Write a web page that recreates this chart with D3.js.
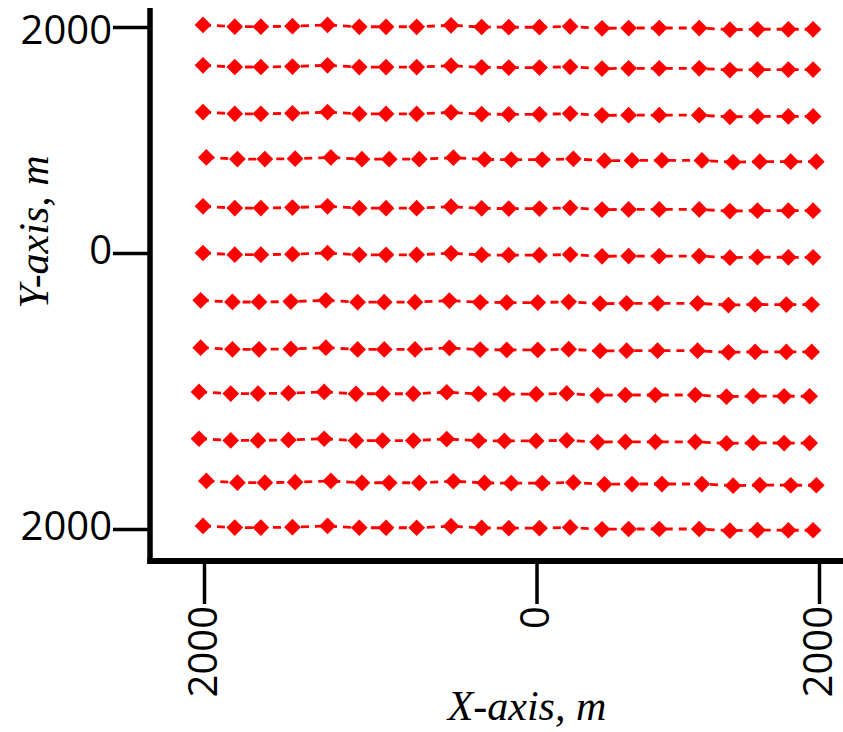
<!DOCTYPE html>
<html lang="en">
<head>
	<meta charset="utf-8">
	<script src="https://d3js.org/d3.v7.min.js"></script>
	<style>
		body { margin: 0; background: #fff; }
	</style>
</head>
<body>
	<div id="grid"></div>

	<script>
		// tick values (m) and the labels as printed on the original figure
		const xTickValues = [-2000, 0, 2000];
		const xTickLabels = ["2000", "0", "2000"];
		const yTickValues = [-2000, 0, 2000];
		const yTickLabels = ["2000", "0", "2000"];

		// station x positions (m), four slightly shifted variants of the same line
		const xLineA = [-2006, -1815, -1658, -1468, -1257, -1066, -905, -721, -514, -330, -167, 21, 238, 464, 652, 869, 1152, 1369, 1564, 1783, 1958];
		const xLineB = [-1986, -1799, -1634, -1452, -1237, -1050, -886, -705, -500, -313, -152, 40, 261, 481, 676, 888, 1171, 1392, 1581, 1800, 1981];
		const xLineC = [-2020, -1829, -1669, -1478, -1267, -1076, -916, -731, -524, -339, -179, 9, 228, 450, 638, 857, 1140, 1359, 1548, 1769, 1948];
		const xLineD = [-2030, -1839, -1675, -1492, -1277, -1086, -926, -741, -540, -349, -193, -2, 214, 433, 629, 841, 1124, 1345, 1534, 1753, 1934];

		// station y positions (m) for each of the 12 lines, top to bottom
		const yLine01 = [2018, 2003, 2003, 2007, 2018, 2002, 2002, 2002, 2015, 2000, 1998, 1998, 2005, 1988, 1991, 1991, 1991, 1976, 1980, 1980, 1980];
		const yLine02 = [1661, 1646, 1646, 1650, 1661, 1645, 1645, 1645, 1658, 1643, 1641, 1641, 1648, 1632, 1634, 1634, 1634, 1619, 1623, 1623, 1623];
		const yLine03 = [1247, 1232, 1232, 1236, 1247, 1231, 1231, 1231, 1244, 1229, 1227, 1227, 1234, 1218, 1220, 1220, 1220, 1205, 1209, 1209, 1209];
		const yLine04 = [846, 831, 831, 835, 846, 830, 830, 830, 843, 828, 826, 826, 833, 817, 819, 819, 819, 804, 808, 808, 808];
		const yLine05 = [413, 398, 398, 402, 413, 397, 397, 397, 410, 395, 393, 393, 400, 384, 386, 386, 386, 371, 375, 375, 375];
		const yLine06 = [0, -12, -12, -9, 0, -13, -13, -13, -2, -14, -16, -16, -11, -24, -22, -22, -22, -34, -30, -31, -31];
		const yLine07 = [-343, -355, -355, -352, -343, -356, -356, -356, -345, -357, -359, -359, -354, -367, -365, -365, -365, -377, -373, -374, -374];
		const yLine08 = [-686, -698, -698, -695, -686, -699, -699, -699, -688, -700, -702, -702, -697, -710, -708, -708, -708, -720, -716, -717, -717];
		const yLine09 = [-1007, -1019, -1019, -1016, -1007, -1020, -1020, -1020, -1009, -1021, -1023, -1023, -1018, -1031, -1029, -1029, -1029, -1041, -1037, -1038, -1038];
		const yLine10 = [-1346, -1358, -1358, -1355, -1346, -1359, -1359, -1359, -1348, -1360, -1362, -1362, -1357, -1370, -1368, -1368, -1368, -1380, -1376, -1377, -1377];
		const yLine11 = [-1652, -1664, -1664, -1661, -1652, -1665, -1665, -1665, -1654, -1666, -1668, -1668, -1663, -1676, -1674, -1674, -1674, -1686, -1682, -1683, -1683];
		const yLine12 = [-1978, -1990, -1990, -1987, -1978, -1991, -1991, -1991, -1980, -1992, -1994, -1994, -1989, -2002, -2000, -2000, -2000, -2012, -2008, -2009, -2009];

		const lineXs = [xLineA, xLineA, xLineA, xLineB, xLineA, xLineA, xLineC, xLineC, xLineD, xLineD, xLineB, xLineA];
		const lineYs = [yLine01, yLine02, yLine03, yLine04, yLine05, yLine06, yLine07, yLine08, yLine09, yLine10, yLine11, yLine12];

		var width = 843,
			height = 732,
			axisX = 150,
			axisY = 561;

		// the axes of the original are not linear around 0, so piecewise scales
		var x = d3.scaleLinear()
			.domain([-2000, 0, 2000])
			.range([204, 536.5, 819]);

		var y = d3.scaleLinear()
			.domain([-2000, 0, 2000])
			.range([529, 253, 27]);

		var svg = d3.select("#grid").append("svg")
			.attr("width", width)
			.attr("height", height);

		var lines = lineYs.map(function(ys, i) {
			return ys.map(function(v, j) {
				return { x: lineXs[i][j], y: v };
			});
		});

		var line = d3.line()
			.x(function(d) { return x(d.x); })
			.y(function(d) { return y(d.y); });

		var rows = svg.append("g").selectAll("g")
			.data(lines)
			.enter()
			.append("g");

		rows.append("path")
			.attr("d", line)
			.style("fill", "none")
			.style("stroke", "#ff0000")
			.style("stroke-width", 2.8)
			.style("stroke-dasharray", "8,6");

		var diamond = d3.symbol().type(d3.symbolSquare).size(140);

		rows.selectAll("path.mark")
			.data(function(d) { return d; })
			.enter()
			.append("path")
			.attr("class", "mark")
			.attr("d", diamond)
			.attr("transform", function(d) {
				return "translate(" + x(d.x) + "," + y(d.y) + ") rotate(45)";
			})
			.style("fill", "#ff0000");

		// y axis
		var yAxis = svg.append("g")
			.attr("transform", "translate(" + axisX + ",0)")
			.call(d3.axisLeft(y)
				.tickValues(yTickValues)
				.tickFormat(function(d, i) { return yTickLabels[i]; })
				.tickSize(37)
				.tickSizeOuter(0)
				.tickPadding(1));

		yAxis.select(".domain").remove();
		yAxis.selectAll(".tick line")
			.style("stroke", "#000")
			.style("stroke-width", 3.5);
		// the top label sits a little lower on its tick in the original
		yAxis.selectAll(".tick text")
			.attr("dy", function(d) { return d === 2000 ? "0.4em" : "0.26em"; })
			.style("font", "40px 'Open Sans'")
			.style("fill", "#000");

		// x axis
		var xAxis = svg.append("g")
			.attr("transform", "translate(0," + axisY + ")")
			.call(d3.axisBottom(x)
				.tickValues(xTickValues)
				.tickFormat(function(d, i) { return xTickLabels[i]; })
				.tickSize(43)
				.tickSizeOuter(0));

		xAxis.select(".domain").remove();
		xAxis.selectAll(".tick line")
			.style("stroke", "#000")
			.style("stroke-width", 3.5);
		xAxis.selectAll(".tick text")
			.attr("x", 0)
			.attr("y", 0)
			.attr("dy", "0.3em")
			.attr("transform", "translate(0,45) rotate(-90)")
			.style("text-anchor", "end")
			.style("font", "40px 'Open Sans'")
			.style("fill", "#000");

		// thick frame lines
		svg.append("line")
			.attr("x1", axisX).attr("y1", 8)
			.attr("x2", axisX).attr("y2", axisY + 3)
			.style("stroke", "#000")
			.style("stroke-width", 5.5);

		svg.append("line")
			.attr("x1", axisX - 2.75).attr("y1", axisY)
			.attr("x2", width).attr("y2", axisY)
			.style("stroke", "#000")
			.style("stroke-width", 6);

		// axis titles
		svg.append("text")
			.attr("x", 527)
			.attr("y", 720)
			.style("text-anchor", "middle")
			.style("font", "italic 42px 'Liberation Serif'")
			.text("X-axis, m");

		svg.append("text")
			.attr("transform", "translate(48,232) rotate(-90)")
			.style("text-anchor", "middle")
			.style("font", "italic 42px 'Liberation Serif'")
			.text("Y-axis, m");
	</script>
</body>
</html>
